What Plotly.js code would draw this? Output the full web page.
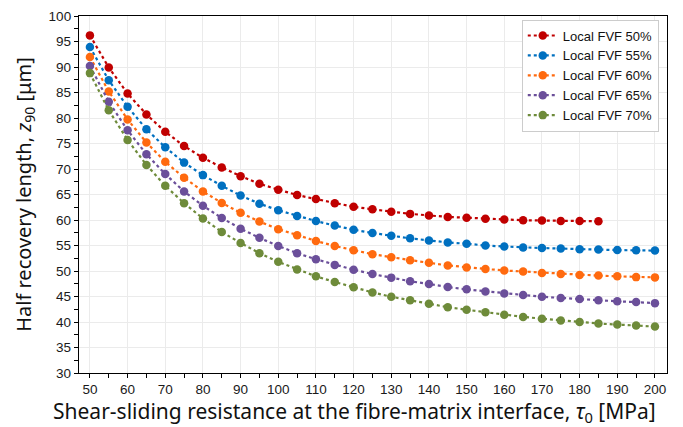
<!DOCTYPE html>
<html>
<head>
<meta charset="utf-8">
<script src="https://cdn.plot.ly/plotly-3.0.1.min.js"></script>
<style>
  html, body { margin: 0; padding: 0; background: #ffffff; }
  #chart { width: 683px; height: 427px; }
</style>
</head>
<body>
<div id="chart"></div>
<script>
// Shear-sliding resistance tau0 [MPa]
const tau = [50, 55, 60, 65, 70, 75, 80, 85, 90, 95, 100, 105, 110, 115, 120, 125,
             130, 135, 140, 145, 150, 155, 160, 165, 170, 175, 180, 185, 190, 195, 200];

// Half recovery length z90 [µm] for each local fibre volume fraction
const fvf50 = [96.2, 89.9, 84.8, 80.7, 77.3, 74.5, 72.2, 70.3, 68.6, 67.1, 65.95, 64.9, 64.1, 63.3, 62.6, 62.1,
               61.6, 61.2, 60.9, 60.6, 60.45, 60.25, 60.1, 59.95, 59.9, 59.8, 59.8, 59.75];
const fvf55 = [93.9, 87.4, 82.2, 77.8, 74.25, 71.25, 68.8, 66.7, 64.8, 63.2, 61.9, 60.8, 59.8, 58.9, 58.1, 57.45,
               56.9, 56.4, 56.0, 55.6, 55.35, 55.0, 54.8, 54.6, 54.5, 54.4, 54.25, 54.2, 54.1, 54.05, 54.0];
const fvf60 = [91.96, 85.2, 79.7, 75.2, 71.4, 68.3, 65.6, 63.35, 61.4, 59.7, 58.2, 57.0, 55.9, 54.9, 54.05, 53.3,
               52.7, 52.1, 51.6, 51.1, 50.7, 50.4, 50.1, 49.9, 49.6, 49.4, 49.2, 49.1, 48.95, 48.8, 48.75];
const fvf65 = [90.2, 83.2, 77.6, 72.9, 69.0, 65.6, 62.8, 60.4, 58.3, 56.5, 54.9, 53.5, 52.3, 51.2, 50.25, 49.4,
               48.7, 48.0, 47.45, 46.85, 46.4, 46.0, 45.6, 45.3, 44.95, 44.7, 44.5, 44.25, 44.05, 43.9, 43.7];
const fvf70 = [88.8, 81.5, 75.7, 70.8, 66.7, 63.3, 60.3, 57.65, 55.5, 53.5, 51.8, 50.3, 48.95, 47.85, 46.8, 45.8,
               44.95, 44.25, 43.6, 42.9, 42.4, 41.9, 41.4, 41.0, 40.65, 40.3, 40.0, 39.7, 39.5, 39.3, 39.1];

const seriesNames = ['Local FVF 50%', 'Local FVF 55%', 'Local FVF 60%', 'Local FVF 65%', 'Local FVF 70%'];
const seriesValues = [fvf50, fvf55, fvf60, fvf65, fvf70];
const seriesColors = ['#C00000', '#0070C0', '#FF6A0F', '#6B4F9A', '#6E8B3A'];

const yTicks = [30, 35, 40, 45, 50, 55, 60, 65, 70, 75, 80, 85, 90, 95, 100];
const xTicks = [50, 60, 70, 80, 90, 100, 110, 120, 130, 140, 150, 160, 170, 180, 190, 200];

const traces = seriesValues.map((vals, i) => ({
  type: 'scatter',
  mode: 'lines+markers',
  name: seriesNames[i],
  x: tau.slice(0, vals.length),
  y: vals,
  line: { color: seriesColors[i], width: 2.2, dash: 'dot' },
  marker: { color: seriesColors[i], size: 8.5 }
}));

const tickFont = { family: 'Liberation Sans, Arial, sans-serif', size: 13.5, color: '#1a1a1a' };
const yTitleFont = { family: 'Noto Sans, Open Sans, sans-serif', size: 20, color: '#111111' };
const xTitleFont = { family: 'Noto Sans, Open Sans, sans-serif', size: 21, color: '#111111' };

const layout = {
  width: 683,
  height: 427,
  margin: { l: 79, r: 16, t: 16, b: 54 },
  paper_bgcolor: '#ffffff',
  plot_bgcolor: '#ffffff',
  showlegend: true,
  legend: {
    x: 0.986, y: 0.99, xanchor: 'right', yanchor: 'top',
    bgcolor: '#ffffff', bordercolor: '#cccccc', borderwidth: 1,
    font: { family: 'Liberation Sans, Arial, sans-serif', size: 13, color: '#111111' },
    tracegroupgap: 0
  },
  xaxis: {
    range: [47.1, 203.2],
    tickvals: xTicks,
    ticktext: xTicks.map(String),
    ticks: 'outside', ticklen: 4, tickwidth: 1, tickcolor: '#000000',
    minor: { dtick: 5, tick0: 0, ticks: 'outside', ticklen: 4, tickcolor: '#000000', showgrid: false },
    showline: true, linecolor: '#000000', linewidth: 1.3, mirror: true,
    showgrid: true, gridcolor: '#ebebeb', gridwidth: 1,
    zeroline: false,
    tickfont: tickFont
  },
  yaxis: {
    range: [30, 100],
    tickvals: yTicks,
    ticktext: yTicks.map(String),
    ticks: 'outside', ticklen: 4, tickwidth: 1, tickcolor: '#000000',
    minor: { dtick: 2.5, tick0: 0, ticks: 'outside', ticklen: 4, tickcolor: '#000000', showgrid: false },
    showline: true, linecolor: '#000000', linewidth: 1.3, mirror: true,
    showgrid: true, gridcolor: '#ebebeb', gridwidth: 1,
    zeroline: false,
    tickfont: tickFont,
    title: { text: 'Half recovery length, <i>z</i><sub>90</sub> [μm]', font: yTitleFont, standoff: 11 }
  },
  // x-axis title placed as an annotation so it sits slightly left of the plot centre
  annotations: [{
    xref: 'paper', yref: 'paper',
    x: 0.468, y: -0.108,
    xanchor: 'center', yanchor: 'middle',
    showarrow: false,
    text: 'Shear-sliding resistance at the fibre-matrix interface, <i>τ</i><sub>0</sub> [MPa]',
    font: xTitleFont
  }]
};

Plotly.newPlot('chart', traces, layout, { displayModeBar: false, responsive: false });
</script>
</body>
</html>
